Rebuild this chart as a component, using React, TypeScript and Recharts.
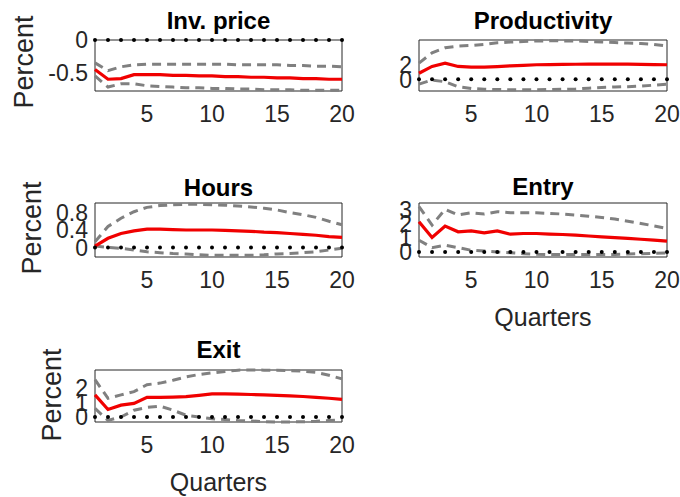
import { LineChart, Line, XAxis, YAxis, ReferenceArea } from 'recharts'

const FONT = '"Liberation Sans", Arial, Helvetica, sans-serif'

// quarters after the shock
const quarters = [1, 2, 3, 4, 5, 6, 7, 8, 9, 10, 11, 12, 13, 14, 15, 16, 17, 18, 19, 20]
const xTicks = [5, 10, 15, 20]
const zeroLine = [0, 0, 0, 0, 0, 0, 0, 0, 0, 0, 0, 0, 0, 0, 0, 0, 0, 0, 0, 0]

const invPriceMedian = [-0.45, -0.6, -0.59, -0.53, -0.53, -0.53, -0.54, -0.54, -0.55, -0.55, -0.56, -0.56, -0.57, -0.57, -0.58, -0.58, -0.59, -0.59, -0.6, -0.6]
const invPriceUpper = [-0.35, -0.47, -0.41, -0.38, -0.37, -0.37, -0.37, -0.37, -0.37, -0.37, -0.37, -0.38, -0.38, -0.38, -0.38, -0.39, -0.39, -0.4, -0.4, -0.41]
const invPriceLower = [-0.55, -0.72, -0.67, -0.67, -0.7, -0.71, -0.72, -0.73, -0.73, -0.74, -0.74, -0.75, -0.75, -0.76, -0.76, -0.76, -0.77, -0.77, -0.77, -0.77]

const productivityMedian = [0.84, 1.77, 2.23, 1.77, 1.67, 1.67, 1.75, 1.86, 1.93, 2.0, 2.03, 2.05, 2.07, 2.08, 2.09, 2.09, 2.08, 2.06, 2.03, 2.0]
const productivityUpper = [2.23, 3.63, 4.33, 4.56, 4.65, 4.8, 5.02, 5.12, 5.2, 5.26, 5.28, 5.28, 5.27, 5.2, 5.12, 5.05, 4.98, 4.93, 4.8, 4.56]
const productivityLower = [-0.65, -0.09, -0.33, -1.02, -1.26, -1.35, -1.4, -1.42, -1.42, -1.42, -1.4, -1.37, -1.32, -1.22, -1.12, -1.05, -1.0, -0.93, -0.8, -0.65]

const hoursMedian = [0.03, 0.21, 0.32, 0.38, 0.42, 0.42, 0.41, 0.4, 0.4, 0.4, 0.39, 0.38, 0.37, 0.35, 0.34, 0.32, 0.3, 0.28, 0.25, 0.23]
const hoursUpper = [0.13, 0.48, 0.67, 0.82, 0.92, 0.96, 0.98, 0.99, 0.99, 0.98, 0.97, 0.95, 0.93, 0.9, 0.86, 0.8, 0.75, 0.69, 0.6, 0.52]
const hoursLower = [0.03, 0, -0.02, -0.06, -0.1, -0.12, -0.14, -0.15, -0.17, -0.18, -0.18, -0.18, -0.18, -0.17, -0.15, -0.14, -0.12, -0.1, -0.06, -0.02]

const entryMedian = [2.16, 1.03, 1.85, 1.44, 1.51, 1.37, 1.51, 1.27, 1.32, 1.32, 1.28, 1.25, 1.2, 1.14, 1.08, 1.03, 0.97, 0.91, 0.84, 0.77]
const entryUpper = [3.24, 1.92, 3.05, 2.64, 2.8, 2.71, 2.88, 2.8, 2.8, 2.8, 2.76, 2.71, 2.64, 2.56, 2.47, 2.35, 2.2, 2.04, 1.86, 1.68]
const entryLower = [0.84, 0.31, 0.48, 0.31, 0.12, 0.07, 0.0, -0.05, -0.12, -0.17, -0.18, -0.19, -0.19, -0.19, -0.19, -0.18, -0.15, -0.12, -0.1, -0.07]

const exitMedian = [1.53, 0.52, 0.82, 0.94, 1.36, 1.36, 1.38, 1.41, 1.5, 1.6, 1.6, 1.58, 1.56, 1.53, 1.5, 1.46, 1.42, 1.36, 1.3, 1.22]
const exitUpper = [2.59, 1.29, 1.53, 1.76, 2.24, 2.35, 2.55, 2.78, 2.95, 3.06, 3.15, 3.25, 3.26, 3.25, 3.25, 3.22, 3.18, 3.1, 2.9, 2.64]
const exitLower = [0.59, -0.24, 0.0, 0.47, 0.66, 0.75, 0.47, 0.12, 0.0, -0.12, -0.18, -0.24, -0.28, -0.32, -0.35, -0.35, -0.33, -0.3, -0.25, -0.19]

const tickStyle = { fontSize: 23, fill: '#262626', fontFamily: FONT }

interface PanelProps {
  title: string
  x: number
  y: number
  w: number
  h: number
  titleY: number
  domain: [number, number]
  yTicks: number[]
  median: number[]
  upper: number[]
  lower: number[]
  percentAt?: [number, number]
  showQuarters?: boolean
}

const AXIS_W = 90
const PAD_T = 14
const PAD_R = 20
const AXIS_H = 42

const Panel = ({ title, x, y, w, h, titleY, domain, yTicks, median, upper, lower, percentAt, showQuarters }: PanelProps) => {
  const data = quarters.map((q, i) => ({
    q,
    zero: zeroLine[i],
    upper: upper[i],
    lower: lower[i],
    median: median[i],
  }))

  return (
    <>
      <div
        style={{
          position: 'absolute',
          left: x + w / 2,
          top: titleY,
          transform: 'translate(-50%, -50%)',
          fontSize: 24,
          fontWeight: 'bold',
          lineHeight: 1,
          whiteSpace: 'nowrap',
          color: '#000',
        }}
      >
        {title}
      </div>
      {percentAt && (
        <div
          style={{
            position: 'absolute',
            left: percentAt[0],
            top: percentAt[1],
            transform: 'translate(-50%, -50%) rotate(-90deg)',
            fontSize: 27,
            lineHeight: 1,
            whiteSpace: 'nowrap',
            color: '#262626',
          }}
        >
          Percent
        </div>
      )}
      {showQuarters && (
        <div
          style={{
            position: 'absolute',
            left: x + w / 2,
            top: y + h + 60,
            transform: 'translate(-50%, -50%)',
            fontSize: 25,
            lineHeight: 1,
            whiteSpace: 'nowrap',
            color: '#262626',
          }}
        >
          Quarters
        </div>
      )}
      <div style={{ position: 'absolute', left: x - AXIS_W, top: y - PAD_T }}>
        <LineChart
          width={AXIS_W + w + PAD_R}
          height={PAD_T + h + AXIS_H}
          data={data}
          margin={{ top: PAD_T, right: PAD_R, bottom: 0, left: 0 }}
        >
          <XAxis
            dataKey="q"
            type="number"
            domain={[1, 20]}
            ticks={xTicks}
            interval={0}
            tickLine={false}
            axisLine={false}
            tickSize={0}
            tickMargin={15}
            height={AXIS_H}
            tick={tickStyle}
          />
          <YAxis
            type="number"
            domain={domain}
            ticks={yTicks}
            interval={0}
            tickLine={false}
            axisLine={false}
            tickSize={0}
            tickMargin={7}
            width={AXIS_W}
            tick={tickStyle}
          />
          <ReferenceArea
            x1={1}
            x2={20}
            y1={domain[0]}
            y2={domain[1]}
            fill="none"
            fillOpacity={0}
            stroke="#262626"
            strokeWidth={1}
            strokeOpacity={1}
          />
          <Line
            dataKey="zero"
            stroke="none"
            dot={{ r: 2, fill: '#000', stroke: 'none' }}
            isAnimationActive={false}
          />
          <Line
            dataKey="upper"
            stroke="#808080"
            strokeWidth={3}
            strokeDasharray="9 6"
            dot={false}
            isAnimationActive={false}
          />
          <Line
            dataKey="lower"
            stroke="#808080"
            strokeWidth={3}
            strokeDasharray="9 6"
            dot={false}
            isAnimationActive={false}
          />
          <Line
            dataKey="median"
            stroke="#f00000"
            strokeWidth={3.2}
            dot={false}
            isAnimationActive={false}
          />
        </LineChart>
      </div>
    </>
  )
}

export default function App() {
  return (
    <div
      style={{
        position: 'absolute',
        left: 0,
        top: 0,
        width: 680,
        height: 497,
        background: '#fff',
        fontFamily: FONT,
        overflow: 'hidden',
      }}
    >
      <Panel
        title="Inv. price"
        x={95}
        y={40}
        w={247}
        h={51}
        titleY={21}
        domain={[-0.78, 0]}
        yTicks={[-0.5, 0]}
        median={invPriceMedian}
        upper={invPriceUpper}
        lower={invPriceLower}
        percentAt={[24, 62]}
      />
      <Panel
        title="Productivity"
        x={419}
        y={40}
        w={248}
        h={51}
        titleY={21}
        domain={[-1.6, 5.4]}
        yTicks={[0, 2]}
        median={productivityMedian}
        upper={productivityUpper}
        lower={productivityLower}
      />
      <Panel
        title="Hours"
        x={95}
        y={203}
        w={247}
        h={54}
        titleY={188}
        domain={[-0.22, 1.02]}
        yTicks={[0, 0.4, 0.8]}
        median={hoursMedian}
        upper={hoursUpper}
        lower={hoursLower}
        percentAt={[32, 228]}
      />
      <Panel
        title="Entry"
        x={419}
        y={203}
        w={248}
        h={54}
        titleY={187}
        domain={[-0.36, 3.5]}
        yTicks={[0, 1, 2, 3]}
        median={entryMedian}
        upper={entryUpper}
        lower={entryLower}
        showQuarters
      />
      <Panel
        title="Exit"
        x={95}
        y={370}
        w={247}
        h={52}
        titleY={350}
        domain={[-0.35, 3.26]}
        yTicks={[0, 1, 2]}
        median={exitMedian}
        upper={exitUpper}
        lower={exitLower}
        percentAt={[52, 395]}
        showQuarters
      />
    </div>
  )
}
